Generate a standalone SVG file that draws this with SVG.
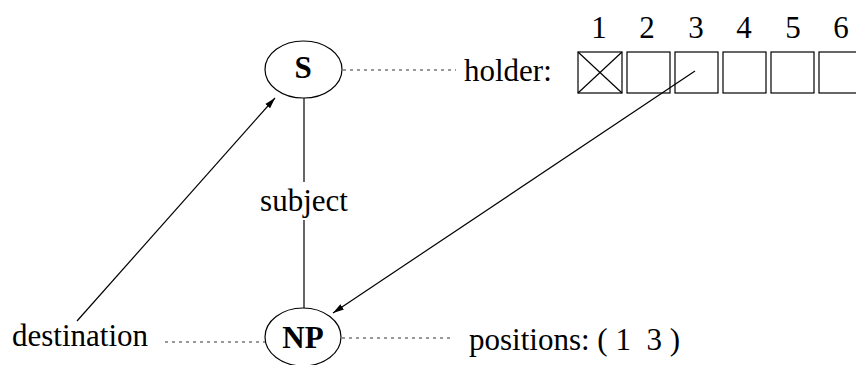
<svg xmlns="http://www.w3.org/2000/svg" width="856" height="365" viewBox="0 0 856 365">
<style>
text{font-family:"Liberation Serif","Times New Roman",serif;font-size:31px;fill:#000}
.b{font-weight:bold;text-anchor:middle}
.m{text-anchor:middle}
.node{fill:#fff;stroke:#000;stroke-width:1.2}
.ln{stroke:#000;stroke-width:1.2;fill:none}
.dot{stroke:#333;stroke-width:1;stroke-dasharray:3 4;fill:none}
.box{fill:none;stroke:#000;stroke-width:1.2}
</style>
<defs>
<marker id="ah" markerWidth="12" markerHeight="8" refX="11" refY="4" orient="auto" markerUnits="userSpaceOnUse">
<path d="M0,0.8 L11,4 L0,7.2 Z" fill="#000"/>
</marker>
</defs>
<g id="connectors">
<line class="ln" x1="304" y1="98" x2="304" y2="182"/>
<line class="ln" x1="304" y1="220" x2="304" y2="308"/>
<line class="dot" x1="343" y1="70" x2="456" y2="70"/>
<line class="dot" x1="165" y1="342" x2="265" y2="342"/>
<line class="dot" x1="342" y1="338" x2="454" y2="338"/>
<line class="ln" x1="77" y1="321" x2="275" y2="98" marker-end="url(#ah)"/>
<line class="ln" x1="695" y1="71" x2="333" y2="313" marker-end="url(#ah)"/>
</g>
<g id="S">
<ellipse class="node" cx="303.5" cy="69.5" rx="38.5" ry="28.5"/>
<text class="b" x="303" y="78">S</text>
</g>
<g id="NP">
<ellipse class="node" cx="303" cy="337" rx="38" ry="29"/>
<text class="b" x="303" y="348">NP</text>
</g>
<g id="subject"><text class="m" x="304" y="211">subject</text></g>
<g id="holder">
<text x="464" y="81">holder:</text>
<g>
<rect class="box" x="578" y="52" width="44" height="41"/>
<line class="ln" x1="578" y1="52" x2="622" y2="93"/>
<line class="ln" x1="622" y1="52" x2="578" y2="93"/>
<rect class="box" x="627" y="52" width="43" height="41"/>
<rect class="box" x="675" y="52" width="43" height="41"/>
<rect class="box" x="723" y="52" width="43" height="41"/>
<rect class="box" x="771" y="52" width="43" height="41"/>
<rect class="box" x="819" y="52" width="43" height="41"/>
</g>
<text class="m" x="599" y="38">1</text>
<text class="m" x="647" y="38">2</text>
<text class="m" x="696" y="38">3</text>
<text class="m" x="744" y="38">4</text>
<text class="m" x="793" y="38">5</text>
<text class="m" x="841" y="38">6</text>
</g>
<g id="destination"><text x="12" y="346">destination</text></g>
<g id="positions"><text x="469" y="350" xml:space="preserve">positions: ( 1  3 )</text></g>
</svg>
